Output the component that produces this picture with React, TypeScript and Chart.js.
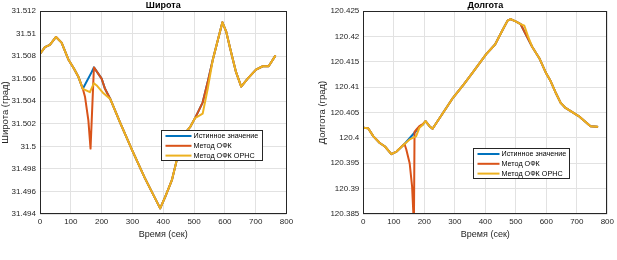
import React, { useEffect, useRef } from "react";
import { Chart, registerables } from "chart.js";

Chart.register(...registerables);
Chart.defaults.font.family = '"Liberation Sans", Arial, sans-serif';

// ---------- shared ----------
const seriesLabels = ["Истинное значение", "Метод ОФК", "Метод ОФК ОРНС"];
const seriesColors = ["#0072BD", "#D95319", "#EDB120"];
const xAxisLabel = "Время (сек)";
const xMin = 0;
const xMax = 800;
const xStep = 100;

// ---------- Широта (latitude) ----------
const latTitle = "Широта";
const latYLabel = "Широта (град)";
const latYMin = 31.494;
const latYMax = 31.512;
const latYStep = 0.002;

const latHeadT = [0, 16, 32, 52, 70, 92, 110, 124, 139];
const latHeadV = [31.5082, 31.5088, 31.509, 31.5097, 31.5092, 31.5077, 31.5069, 31.5062, 31.5051];

const latTrueMidT = [168];
const latTrueMidV = [31.5066];
const latOfkMidT = [146, 157, 164];
const latOfkMidV = [31.5044, 31.5023, 31.4998];
const latOrnsMidT = [162, 175, 184, 206];
const latOrnsMidV = [31.5048, 31.5056, 31.5054, 31.5047];

const latPeakT = [175, 200, 211];
const latPeakV = [31.507, 31.506, 31.5051];

const latDescT = [228, 260, 300, 340, 390, 406, 428, 444, 465, 487, 503];
const latDescV = [31.5042, 31.5021, 31.4996, 31.4972, 31.4945, 31.4955, 31.497, 31.4988, 31.501, 31.5017, 31.5025];

const latRiseT = [514, 528, 546];
const latRiseV = [31.5031, 31.5039, 31.5059];
const latOrnsRiseT = [528, 545];
const latOrnsRiseV = [31.5029, 31.5052];

const latTailT = [561, 592, 604, 617, 636, 653, 674, 701, 723, 742, 763];
const latTailV = [31.5077, 31.511, 31.5102, 31.5087, 31.5066, 31.5053, 31.506, 31.5068, 31.5071, 31.5071, 31.508];

// ---------- Долгота (longitude) ----------
const lonTitle = "Долгота";
const lonYLabel = "Долгота (град)";
const lonYMin = 120.385;
const lonYMax = 120.425;
const lonYStep = 0.005;

const lonHeadT = [0, 16, 33, 54, 71, 92, 109, 135];
const lonHeadV = [120.402, 120.4019, 120.4003, 120.399, 120.3983, 120.3968, 120.3973, 120.3988];

const lonTrueMidT = [175, 184, 195];
const lonTrueMidV = [120.4015, 120.4022, 120.4026];
const lonOfkMidT = [141, 152, 160, 164, 166, 168, 175, 184, 195];
const lonOfkMidV = [120.3977, 120.395, 120.3904, 120.3852, 120.3835, 120.4012, 120.4017, 120.4023, 120.4027];
const lonOrnsMidT = [152, 173, 184, 195];
const lonOrnsMidV = [120.3997, 120.4003, 120.402, 120.4026];

const lonRiseT = [204, 217, 227, 260, 294, 330, 359, 403, 432, 457, 473, 483, 501, 516];
const lonRiseV = [120.4033, 120.4023, 120.4018, 120.4048, 120.4079, 120.4106, 120.4129, 120.4165, 120.4184, 120.4213, 120.4231, 120.4234, 120.4229, 120.4224];

const lonFallT = [530, 543];
const lonFallV = [120.4207, 120.4192];
const lonOrnsFallT = [528, 540];
const lonOrnsFallV = [120.4221, 120.42];

const lonTailT = [554, 577, 598, 614, 630, 647, 663, 706, 745, 767];
const lonTailV = [120.4179, 120.4157, 120.4129, 120.4112, 120.409, 120.4069, 120.4059, 120.4043, 120.4023, 120.4022];

// ---------- helpers ----------
type P = { x: number; y: number };
function pts(...pairs: [number[], number[]][]): P[] {
  const out: P[] = [];
  pairs.forEach(([t, v]) => t.forEach((x, i) => out.push({ x, y: v[i] })));
  return out;
}

const latSeries = [
  pts([latHeadT, latHeadV], [latTrueMidT, latTrueMidV], [latPeakT, latPeakV], [latDescT, latDescV], [latRiseT, latRiseV], [latTailT, latTailV]),
  pts([latHeadT, latHeadV], [latOfkMidT, latOfkMidV], [latPeakT, latPeakV], [latDescT, latDescV], [latRiseT, latRiseV], [latTailT, latTailV]),
  pts([latHeadT, latHeadV], [latOrnsMidT, latOrnsMidV], [latDescT, latDescV], [latOrnsRiseT, latOrnsRiseV], [latTailT, latTailV]),
];
const lonSeries = [
  pts([lonHeadT, lonHeadV], [lonTrueMidT, lonTrueMidV], [lonRiseT, lonRiseV], [lonFallT, lonFallV], [lonTailT, lonTailV]),
  pts([lonHeadT, lonHeadV], [lonOfkMidT, lonOfkMidV], [lonRiseT, lonRiseV], [lonFallT, lonFallV], [lonTailT, lonTailV]),
  pts([lonHeadT, lonHeadV], [lonOrnsMidT, lonOrnsMidV], [lonRiseT, lonRiseV], [lonOrnsFallT, lonOrnsFallV], [lonTailT, lonTailV]),
];

const TEXT = "#262626";
const GRID = "#e2e2e2";

const decorPlugin = {
  id: "decor",
  afterDatasetsDraw(chart: any, _args: any, opts: any) {
    const { ctx, chartArea: a } = chart;
    ctx.save();
    // frame
    ctx.strokeStyle = TEXT;
    ctx.lineWidth = 1;
    ctx.strokeRect(Math.round(a.left) + 0.5, Math.round(a.top) + 0.5, Math.round(a.right - a.left) - 1, Math.round(a.bottom - a.top) - 1);
    // title
    ctx.fillStyle = "#000";
    ctx.font = 'bold 9px "Liberation Sans", Arial, sans-serif';
    ctx.textAlign = "center";
    ctx.textBaseline = "middle";
    ctx.fillText(opts.title, (a.left + a.right) / 2, a.top - 5.5);
    // legend
    const lx = Math.round(a.left + opts.legendX * (a.right - a.left)) + 0.5;
    const ly = Math.round(a.top + opts.legendY * (a.bottom - a.top)) + 0.5;
    const w = opts.legendW;
    const h = 30;
    ctx.fillStyle = "#fff";
    ctx.fillRect(lx, ly, w, h);
    ctx.strokeStyle = TEXT;
    ctx.lineWidth = 1;
    ctx.strokeRect(lx, ly, w, h);
    ctx.font = '7.2px "Liberation Sans", Arial, sans-serif';
    ctx.textAlign = "left";
    chart.data.datasets.forEach((ds: any, i: number) => {
      const yy = ly + 5.5 + i * 9.8;
      ctx.strokeStyle = ds.borderColor;
      ctx.lineWidth = 2;
      ctx.beginPath();
      ctx.moveTo(lx + 4, yy);
      ctx.lineTo(lx + opts.lineEnd, yy);
      ctx.stroke();
      ctx.fillStyle = "#000";
      ctx.fillText(ds.label, lx + opts.lineEnd + 2, yy + 0.5);
    });
    ctx.restore();
  },
};

function fmt(v: any) {
  return parseFloat(Number(v).toFixed(3)).toString();
}

function buildConfig(p: {
  series: P[][];
  title: string;
  yLabel: string;
  yMin: number;
  yMax: number;
  yStep: number;
  yWidth: number;
  yTitlePad: number;
  padRight: number;
  legendX: number;
  legendY: number;
  legendW: number;
  lineEnd: number;
}): any {
  return {
    type: "line",
    data: {
      datasets: p.series.map((data, i) => ({
        label: seriesLabels[i],
        data,
        borderColor: seriesColors[i],
        backgroundColor: seriesColors[i],
        borderWidth: 2,
        pointRadius: 0,
        tension: 0,
        fill: false,
        borderJoinStyle: "round",
        borderCapStyle: "round",
        order: 2 - i,
      })),
    },
    options: {
      responsive: false,
      animation: false,
      devicePixelRatio: 1,
      parsing: false,
      layout: { padding: { top: 11, right: p.padRight, bottom: 0, left: 0 } },
      plugins: {
        legend: { display: false },
        tooltip: { enabled: false },
        decor: { title: p.title, legendX: p.legendX, legendY: p.legendY, legendW: p.legendW, lineEnd: p.lineEnd },
      },
      scales: {
        x: {
          type: "linear",
          min: xMin,
          max: xMax,
          ticks: { stepSize: xStep, padding: 3, color: TEXT, font: { size: 8 }, maxRotation: 0, autoSkip: false },
          grid: { color: GRID, drawTicks: false },
          border: { display: false },
          title: { display: true, text: xAxisLabel, color: TEXT, font: { size: 9 }, padding: { top: 0, bottom: 20 } },
          afterFit: (s: any) => {
            s.height = 46;
          },
        },
        y: {
          type: "linear",
          min: p.yMin,
          max: p.yMax,
          ticks: { stepSize: p.yStep, padding: 4, color: TEXT, font: { size: 8 }, callback: fmt, autoSkip: false },
          grid: { color: GRID, drawTicks: false },
          border: { display: false },
          title: { display: true, text: p.yLabel, color: TEXT, font: { size: 9.5 }, padding: { top: p.yTitlePad, bottom: 0 } },
          afterFit: (s: any) => {
            s.width = p.yWidth;
          },
        },
      },
    },
    plugins: [decorPlugin],
  };
}

function ChartPanel({ config, left, width }: { config: any; left: number; width: number }) {
  const ref = useRef<HTMLCanvasElement>(null);
  useEffect(() => {
    const chart = new Chart(ref.current as HTMLCanvasElement, config);
    return () => chart.destroy();
  }, []);
  return (
    <canvas
      ref={ref}
      width={width}
      height={260}
      style={{ position: "absolute", left, top: 0, width, height: 260 }}
    />
  );
}

export default function App() {
  const latConfig = buildConfig({
    series: latSeries,
    title: latTitle,
    yLabel: latYLabel,
    yMin: latYMin,
    yMax: latYMax,
    yStep: latYStep,
    yWidth: 40,
    yTitlePad: 0,
    padRight: 13.5,
    legendX: 0.491,
    legendY: 0.586,
    legendW: 101,
    lineEnd: 30,
  });
  const lonConfig = buildConfig({
    series: lonSeries,
    title: lonTitle,
    yLabel: lonYLabel,
    yMin: lonYMin,
    yMax: lonYMax,
    yStep: lonYStep,
    yWidth: 53.3,
    yTitlePad: 6.8,
    padRight: 8.3,
    legendX: 0.448,
    legendY: 0.676,
    legendW: 96,
    lineEnd: 26,
  });
  return (
    <div style={{ position: "absolute", left: 0, top: 0, width: 617, height: 260, background: "#fff" }}>
      <ChartPanel config={latConfig} left={0} width={300} />
      <ChartPanel config={lonConfig} left={310} width={307} />
    </div>
  );
}
